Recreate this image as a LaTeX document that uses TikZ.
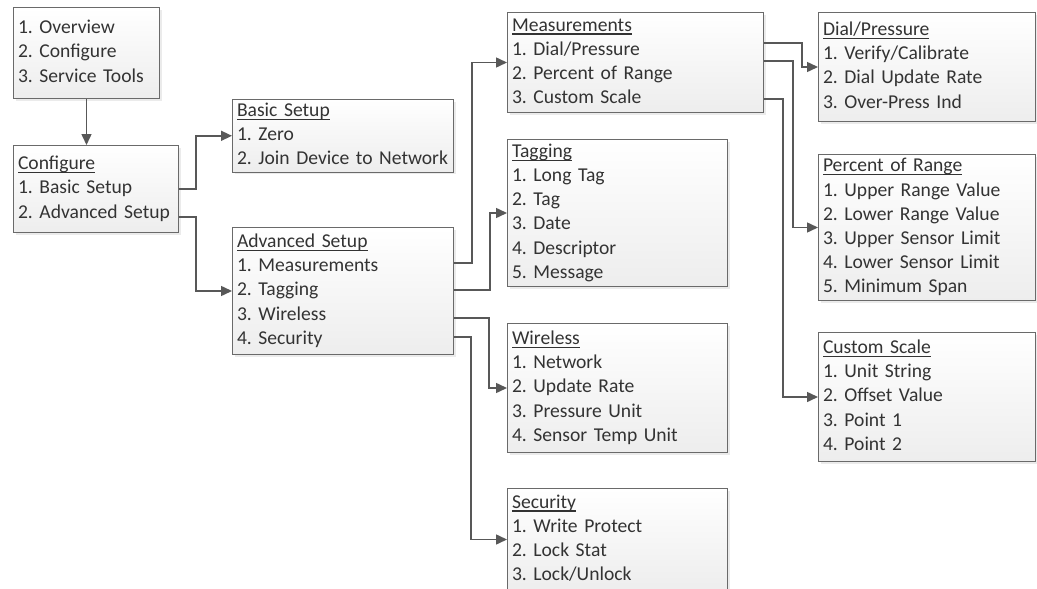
\documentclass[tikz,border=0pt]{standalone}
\usepackage{fontspec}
\setmainfont{Carlito}
\usetikzlibrary{arrows.meta,shadows,calc}
\definecolor{linecol}{HTML}{585858}
\definecolor{boxborder}{HTML}{6A6A6A}
\definecolor{textcol}{HTML}{333333}
\frenchspacing
\hbadness=10000
\hfuzz=100pt
\newcommand\hdr[1]{\setbox0\hbox{#1}\rlap{\rule[-3.6pt]{\wd0}{1.3pt}}\box0}
\newcommand\li[1]{\mbox{\strut#1}}
\begin{document}
\begin{tikzpicture}[x=1pt,y=-1pt,
  menubox/.style={draw=boxborder, line width=1pt, top color=white, bottom color=black!7,
    drop shadow={shadow xshift=2pt, shadow yshift=-2pt, opacity=0.25, fill=black!30},
    anchor=north west, inner xsep=4.5pt, inner ysep=0pt, align=left,
    font=\fontsize{19.6}{24.2}\selectfont\frenchspacing, text=textcol},
  conn/.style={draw=linecol, line width=1.5pt, -{Triangle[length=11pt,width=10pt]}}]
\fill[white] (0,0) rectangle (1037,589);
\useasboundingbox (0,0) rectangle (1037,589);

\node[menubox, text width=137pt, minimum height=91pt] (ov) at (13,7)
  {\li{1. Overview}\\\li{2. Configure}\\\li{3. Service Tools}};
\node[menubox, text width=156pt, minimum height=87pt] (cfg) at (13,145)
  {\li{\hdr{Configure}}\\\li{1. Basic Setup}\\\li{2. Advanced Setup}};
\node[menubox, text width=212pt, minimum height=72pt] (basic) at (232,99)
  {\li{\hdr{Basic Setup}}\\\li{1. Zero}\\\li{2. Join Device to Network}};
\node[menubox, text width=212pt, minimum height=127pt] (adv) at (232,227)
  {\li{\hdr{Advanced Setup}}\\\li{1. Measurements}\\\li{2. Tagging}\\\li{3. Wireless}\\\li{4. Security}};
\node[menubox, text width=247pt, minimum height=100pt] (meas) at (507,12)
  {\li{\hdr{Measurements}}\\\li{1. Dial/Pressure}\\\li{2. Percent of Range}\\\li{3. Custom Scale}};
\node[menubox, text width=211pt, minimum height=147pt] (tag) at (507,139)
  {\li{\hdr{Tagging}}\\\li{1. Long Tag}\\\li{2. Tag}\\\li{3. Date}\\\li{4. Descriptor}\\\li{5. Message}};
\node[menubox, text width=211pt, minimum height=129pt] (wir) at (507,323)
  {\li{\hdr{Wireless}}\\\li{1. Network}\\\li{2. Update Rate}\\\li{3. Pressure Unit}\\\li{4. Sensor Temp Unit}};
\node[menubox, text width=211pt, minimum height=102pt] (sec) at (507,488)
  {\li{\hdr{Security}}\\\li{1. Write Protect}\\\li{2. Lock Stat}\\\li{3. Lock/Unlock}};
\node[menubox, text width=208pt, minimum height=109pt] (dial) at (818,12)
  {\li{\hdr{Dial/Pressure}}\\\li{1. Verify/Calibrate}\\\li{2. Dial Update Rate}\\\li{3. Over-Press Ind}};
\node[menubox, text width=208pt, minimum height=146pt] (pct) at (818,154)
  {\li{\hdr{Percent of Range}}\\\li{1. Upper Range Value}\\\li{2. Lower Range Value}\\\li{3. Upper Sensor Limit}\\\li{4. Lower Sensor Limit}\\\li{5. Minimum Span}};
\node[menubox, text width=208pt, minimum height=129pt] (cus) at (818,332)
  {\li{\hdr{Custom Scale}}\\\li{1. Unit String}\\\li{2. Offset Value}\\\li{3. Point 1}\\\li{4. Point 2}};

\draw[conn] (ov.south) -- (ov.south |- cfg.north);
\draw[conn] (cfg.east) -- ++(17,0) |- (basic.west);
\draw[conn] ($(cfg.east)+(0,28)$) -- ++(17,0) |- (adv.west);
\draw[conn] ($(adv.north east)+(0,36)$) -- ++(18,0) |- (meas.west);
\draw[conn] ($(adv.north east)+(0,63)$) -- ++(36,0) |- (tag.west);
\draw[conn] ($(adv.north east)+(0,91)$) -- ++(35,0) |- (wir.west);
\draw[conn] ($(adv.north east)+(0,110)$) -- ++(17,0) |- (sec.west);
\draw[conn] ($(meas.north east)+(0,31)$) -- ++(38,0) |- (dial.west);
\draw[conn] ($(meas.north east)+(0,49)$) -- ++(29,0) |- (pct.west);
\draw[conn] ($(meas.north east)+(0,87)$) -- ++(19,0) |- (cus.west);
\end{tikzpicture}
\end{document}
